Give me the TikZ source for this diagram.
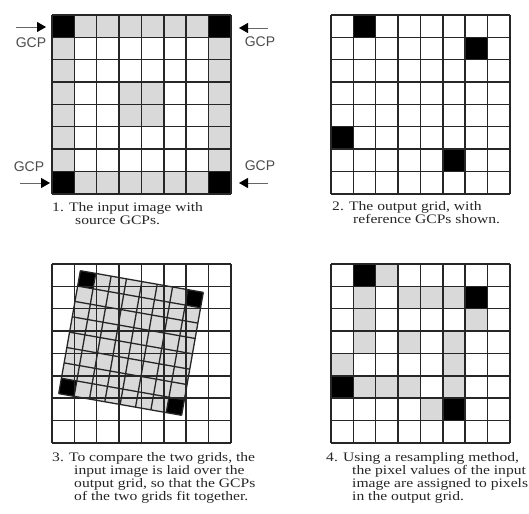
\documentclass[tikz,border=0pt]{standalone}
\usepackage{fontspec}
\setmainfont{Liberation Serif}
\newfontfamily\gcpfont{Liberation Sans}
\newfontfamily\wideserif[FakeStretch=1.2]{Liberation Serif}
\usetikzlibrary{arrows.meta}
\newcommand\capfont{\wideserif\fontsize{13}{13.2}\selectfont\setlength{\lineskiplimit}{-20pt}}
\begin{document}
\begin{tikzpicture}[x=1pt,y=-1pt,
  cell/.style={draw=black!85,line width=1.5pt},
  tilt/.style={draw=black!85,line width=1.3pt},
  lit/.style={fill=black!15},
  gcp/.style={fill=black},
  lbl/.style={font=\gcpfont\fontsize{14}{14}\selectfont,text=black!70,inner sep=0},
  pointer/.style={draw=black!60,line width=0.9pt,-{Triangle[length=9pt,width=10pt,color=black]}},
  caption/.style={anchor=north west,inner sep=0,align=left,text=black!85,font=\capfont}]
\useasboundingbox (0,0) rectangle (529,513);
\def\sz{22.35}% output / input cell
\def\rs{15.6}% cell of the tilted input image
% 1. input image with source GCPs
\begin{scope}[shift={(52,15)}]
  \foreach \k in {1,...,6}{
    \fill[lit] (\k*\sz,0) rectangle ++(\sz,\sz);
    \fill[lit] (\k*\sz,7*\sz) rectangle ++(\sz,\sz);
    \fill[lit] (0,\k*\sz) rectangle ++(\sz,\sz);
    \fill[lit] (7*\sz,\k*\sz) rectangle ++(\sz,\sz);
  }
  \foreach \r/\k in {3/3,3/4,4/3,4/4}
    \fill[lit] (\k*\sz,\r*\sz) rectangle ++(\sz,\sz);
  \foreach \r/\k in {0/0,0/7,7/0,7/7}
    \fill[gcp] (\k*\sz,\r*\sz) rectangle ++(\sz,\sz);
  \foreach \i in {0,...,8}{
    \draw[cell] (\i*\sz,0) -- (\i*\sz,8*\sz);
    \draw[cell] (0,\i*\sz) -- (8*\sz,\i*\sz);
  }
\end{scope}
% GCP pointers round panel 1
\node[lbl] (gcptl) at (31,43) {GCP};
\node[lbl] (gcpbl) at (29,167) {GCP};
\node[lbl] (gcptr) at (260,42) {GCP};
\node[lbl] (gcpbr) at (260,166) {GCP};
\coordinate (tlfrom) at (16,27);  \coordinate (tlto) at (46,27);
\coordinate (blfrom) at (20,183); \coordinate (blto) at (50,183);
\coordinate (trfrom) at (268,28); \coordinate (trto) at (239,28);
\coordinate (brfrom) at (268,183); \coordinate (brto) at (239,183);
\draw[pointer] (tlfrom) -- (tlto);
\draw[pointer] (blfrom) -- (blto);
\draw[pointer] (trfrom) -- (trto);
\draw[pointer] (brfrom) -- (brto);
% 2. output grid with reference GCPs
\begin{scope}[shift={(331,15)}]
  \foreach \r/\k in {0/1,1/6,5/0,6/5}
    \fill[gcp] (\k*\sz,\r*\sz) rectangle ++(\sz,\sz);
  \foreach \i in {0,...,8}{
    \draw[cell] (\i*\sz,0) -- (\i*\sz,8*\sz);
    \draw[cell] (0,\i*\sz) -- (8*\sz,\i*\sz);
  }
\end{scope}
% 3. input image laid over the output grid
\begin{scope}[shift={(131,343)},rotate=-10]
  \fill[lit] (-4*\rs,-4*\rs) rectangle (4*\rs,4*\rs);
  \foreach \r/\k in {0/0,0/7,7/0,7/7}
    \fill[gcp] (\k*\rs-4*\rs,\r*\rs-4*\rs) rectangle ++(\rs,\rs);
\end{scope}
\begin{scope}[shift={(52,264)}]
  \foreach \i in {0,...,8}{
    \draw[cell] (\i*\sz,0) -- (\i*\sz,8*\sz);
    \draw[cell] (0,\i*\sz) -- (8*\sz,\i*\sz);
  }
\end{scope}
\begin{scope}[shift={(131,343)},rotate=-10]
  \foreach \i in {0,...,8}{
    \draw[tilt] (\i*\rs-4*\rs,-4*\rs) -- (\i*\rs-4*\rs,4*\rs);
    \draw[tilt] (-4*\rs,\i*\rs-4*\rs) -- (4*\rs,\i*\rs-4*\rs);
  }
\end{scope}
% 4. resampled output grid
\begin{scope}[shift={(331,264)}]
  \foreach \r/\k in {0/2,1/1,1/3,1/4,1/5,2/1,2/6,3/1,3/3,3/5,4/0,4/5,5/1,5/2,5/3,5/5,6/4}
    \fill[lit] (\k*\sz,\r*\sz) rectangle ++(\sz,\sz);
  \foreach \r/\k in {0/1,1/6,5/0,6/5}
    \fill[gcp] (\k*\sz,\r*\sz) rectangle ++(\sz,\sz);
  \foreach \i in {0,...,8}{
    \draw[cell] (\i*\sz,0) -- (\i*\sz,8*\sz);
    \draw[cell] (0,\i*\sz) -- (8*\sz,\i*\sz);
  }
\end{scope}
% captions
\node[caption] (cap1) at (52,202) {1. The input image with\\\hspace*{23pt}source GCPs.};
\node[caption] (cap2) at (332,201) {2. The output grid, with\\\hspace*{21pt}reference GCPs shown.};
\node[caption] (cap3) at (52,452) {3. To compare the two grids, the\\\hspace*{22pt}input image is laid over the\\\hspace*{22pt}output grid, so that the GCPs\\\hspace*{22pt}of the two grids fit together.};
\node[caption] (cap4) at (326,452) {4. Using a resampling method,\\\hspace*{26pt}the pixel values of the input\\\hspace*{26pt}image are assigned to pixels\\\hspace*{26pt}in the output grid.};
\end{tikzpicture}
\end{document}
